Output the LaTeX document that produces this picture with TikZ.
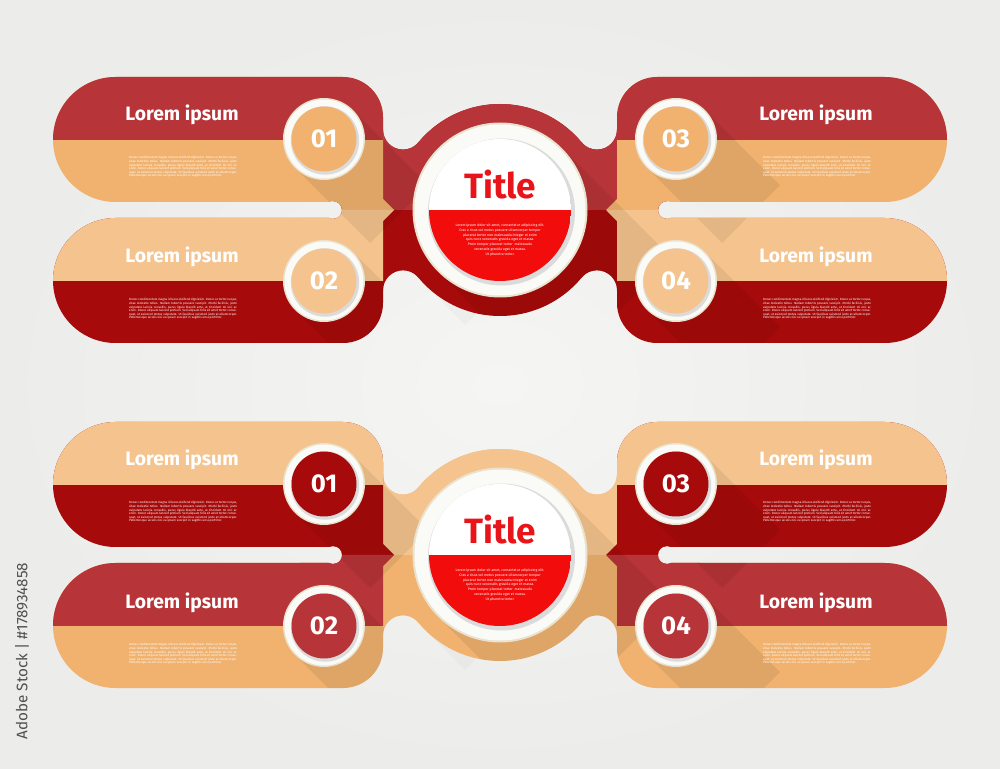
\documentclass[tikz,border=0pt]{standalone}
\usepackage{fontspec}
\setmainfont{Fira Sans}
\usetikzlibrary{calc}

\definecolor{redlight}{HTML}{B73438}
\definecolor{redcore}{HTML}{A70A0A}
\definecolor{orangemid}{HTML}{F0B26E}
\definecolor{orangelight}{HTML}{F5C48E}
\definecolor{titlered}{HTML}{E8141A}
\definecolor{discred}{HTML}{F20C0C}
\definecolor{ringcream}{HTML}{E9E2CE}
\definecolor{ringwhite}{HTML}{FAFAF7}
\definecolor{paperin}{HTML}{F5F5F3}
\definecolor{paperout}{HTML}{ECECEA}
\definecolor{stamp}{HTML}{4F4F4F}

\tikzset{
  bandtitle/.style={text=white, font=\bfseries\fontsize{16.5}{18}\selectfont, inner sep=0pt, anchor=base},
  badgenum/.style={text=white, font=\bfseries\fontsize{22}{24}\selectfont, inner sep=0pt},
  blurbtext/.style={text=white, text width=92pt, align=justify, font=\fontsize{2.6}{3.06}\selectfont, inner sep=0pt},
  titletext/.style={text=titlered, font=\bfseries\fontsize{30}{32}\selectfont, inner sep=0pt, anchor=base},
  centretext/.style={text=white, align=center, font=\fontsize{3}{4.1}\selectfont, inner sep=0pt},
  stamptext/.style={text=stamp, font=\fontsize{13}{15}\selectfont, inner sep=0pt},
  longshade/.style={fill=black, fill opacity=0.07},
}

% outlines of one block (top block, pixel units, y down)
\newcommand\pillTL{(383,202) -- (383,117) arc[start angle=0,end angle=-90,radius=40] -- (115.5,77) arc[start angle=-90,end angle=-270,radius=62.5] -- cycle}
\newcommand\pillBL{(383,218) -- (115.5,218) arc[start angle=-90,end angle=-270,radius=62.5] -- (343,343) arc[start angle=90,end angle=0,radius=40] -- cycle}
\newcommand\pillTR{(617,202) -- (884.5,202) arc[start angle=90,end angle=-90,radius=62.5] -- (657,77) arc[start angle=270,end angle=180,radius=40] -- cycle}
\newcommand\pillBR{(617,218) -- (617,303) arc[start angle=180,end angle=90,radius=40] -- (884.5,343) arc[start angle=90,end angle=-90,radius=62.5] -- cycle}
\newcommand\hubpoly{(333,290.4) -- (403,290.4) -- (500,210) -- (597,290.4) -- (667,290.4) -- (667,129.6) -- (597,129.6) -- (500,210) -- (403,129.6) -- (333,129.6) -- cycle}
\newcommand\hubdisc{(606,210) arc[start angle=0,end angle=-360,radius=106]}

\newcommand\blurb{Donec condimentum magna id lacus eleifend dignissim. Donec ac tortor neque, vitae molestie tellus. Nullam lobortis posuere suscipit. Morbi facilisis, justo vulputate lacinia convallis, purus ligula blandit ante, at tincidunt mi orci ac enim. Donec aliquam laoreet pretium. Sed aliquam felis sit amet tortor consequat, ut euismod metus vulputate. Ut faucibus euismod justo at ullamcorper. Pellentesque iaculis nisi eu ipsum suscipit in sagittis urna porttitor.}

% long shadow: coordinate, radius, diameter, length
\newcommand\longshadow[4]{\fill[longshade] (#1) ++(-45:#2) -- ++(#4,#4) -- ++(135:#3) -- ++(-#4,-#4) -- cycle;}

% badge: coordinate, fill colour, number
\newcommand\badge[3]{%
  \fill[ringcream] (#1) circle (41);
  \fill[ringwhite] (#1) circle (39.5);
  \fill[black!14] (#1) ++(1,1.5) circle (34.2);
  \fill[#2] (#1) circle (32.5);
  \node[badgenum] (#1n) at (#1) {#3};}

% block: prefix, y offset, top band (upper, lower), bottom band (upper, lower), hub (upper, lower)
\newcommand\infoblock[8]{%
  \begin{scope}[shift={(0,#2)}]
    \coordinate (#1b1) at (324,139);
    \coordinate (#1b2) at (324,281);
    \coordinate (#1b3) at (676,139);
    \coordinate (#1b4) at (676,281);
    \coordinate (#1hub) at (500,210);
    % shadow of the hub on the paper
    \fill[black, fill opacity=0.025] (#1hub) ++(-45:106) -- ++(40,40) -- ++(135:212) -- ++(-40,-40) -- cycle;
    \begin{scope}[even odd rule]
      \clip (0,0) rectangle (1000,420) (403,129.6) circle (20) (597,129.6) circle (20)
        (403,290.4) circle (20) (597,290.4) circle (20) (333,210) circle (9) (667,210) circle (9);
      % hub
      \fill[#8] \hubpoly; \fill[#8] \hubdisc;
      \begin{scope}
        \clip (0,0) rectangle (1000,210);
        \fill[#7] \hubpoly; \fill[#7] \hubdisc;
      \end{scope}
      % bands
      \fill[#4] \pillTL; \fill[#4] \pillTR;
      \fill[#6] \pillBL; \fill[#6] \pillBR;
      \begin{scope}
        \clip (0,0) rectangle (1000,140);
        \fill[#3] \pillTL; \fill[#3] \pillTR;
      \end{scope}
      \begin{scope}
        \clip (0,0) rectangle (1000,280.5);
        \fill[#5] \pillBL; \fill[#5] \pillBR;
      \end{scope}
      % arrows
      \fill[#4] (300,202) -- (300,140) -- (324,140) -- (394,210) -- (333,210) -- (333,202) -- cycle;
      \fill[#4] (700,202) -- (700,140) -- (676,140) -- (606,210) -- (667,210) -- (667,202) -- cycle;
      \fill[#5] (300,218) -- (300,280.5) -- (324,280.5) -- (394,210) -- (333,210) -- (333,218) -- cycle;
      \fill[#5] (700,218) -- (700,280.5) -- (676,280.5) -- (606,210) -- (667,210) -- (667,218) -- cycle;
      % long shadows
      \begin{scope}[nonzero rule]
        \clip \pillTL \pillBL \pillTR \pillBR \hubpoly \hubdisc;
        \foreach \b in {b1,b2,b3,b4}
          {\longshadow{#1\b}{41}{82}{75}}
        \longshadow{#1hub}{87.5}{175}{110}
      \end{scope}
    \end{scope}
    % band texts
    \node[bandtitle] (#1t1) at (182,121) {Lorem ipsum};
    \node[bandtitle] (#1t2) at (182,263) {Lorem ipsum};
    \node[bandtitle] (#1t3) at (816,121) {Lorem ipsum};
    \node[bandtitle] (#1t4) at (816,263) {Lorem ipsum};
    \node[blurbtext] (#1p1) at (183,167) {\blurb};
    \node[blurbtext] (#1p2) at (183,309) {\blurb};
    \node[blurbtext] (#1p3) at (817,167) {\blurb};
    \node[blurbtext] (#1p4) at (817,309) {\blurb};
    % badges
    \badge{#1b1}{#4}{01}
    \badge{#1b2}{#5}{02}
    \badge{#1b3}{#4}{03}
    \badge{#1b4}{#5}{04}
    % centre
    \fill[ringcream] (#1hub) circle (87.5);
    \fill[ringwhite] (#1hub) circle (85.5);
    \fill[black!14] (#1hub) ++(1.5,2) circle (73.5);
    \begin{scope}
      \clip (#1hub) circle (71);
      \fill[white] (429,139) rectangle (571,210);
      \fill[discred] (429,210) rectangle (571,281);
    \end{scope}
    \node[titletext] (#1title) at (500,199) {Title};
    \node[centretext] (#1text) at (500,240) {Lorem ipsum dolor sit amet, consectetur adipiscing elit.\\
      Cras a risus vel metus posuere ullamcorper tempor\\
      placerat tortor non malesuada.Integer et enim\\
      quis nunc venenatis gravida eget et massa.\\
      Proin tempor placerat tortor\ \ malesuada\\
      venenatis gravida eget et massa.\\
      Ut pharetra tortor.};
  \end{scope}}

\begin{document}
\begin{tikzpicture}[x=0.03cm, y=-0.03cm]
  \useasboundingbox (0,0) rectangle (1000,769);
  \shade[inner color=paperin, outer color=paperout] (0,0) rectangle (1000,769);

  \infoblock{top}{0}{redlight}{orangemid}{orangelight}{redcore}{redlight}{redcore}
  \infoblock{bot}{345}{orangelight}{redcore}{redlight}{orangemid}{orangelight}{orangemid}

  \node[stamptext, rotate=90] (stamp) at (22,651) {Adobe Stock | \#178934858};
\end{tikzpicture}
\end{document}
